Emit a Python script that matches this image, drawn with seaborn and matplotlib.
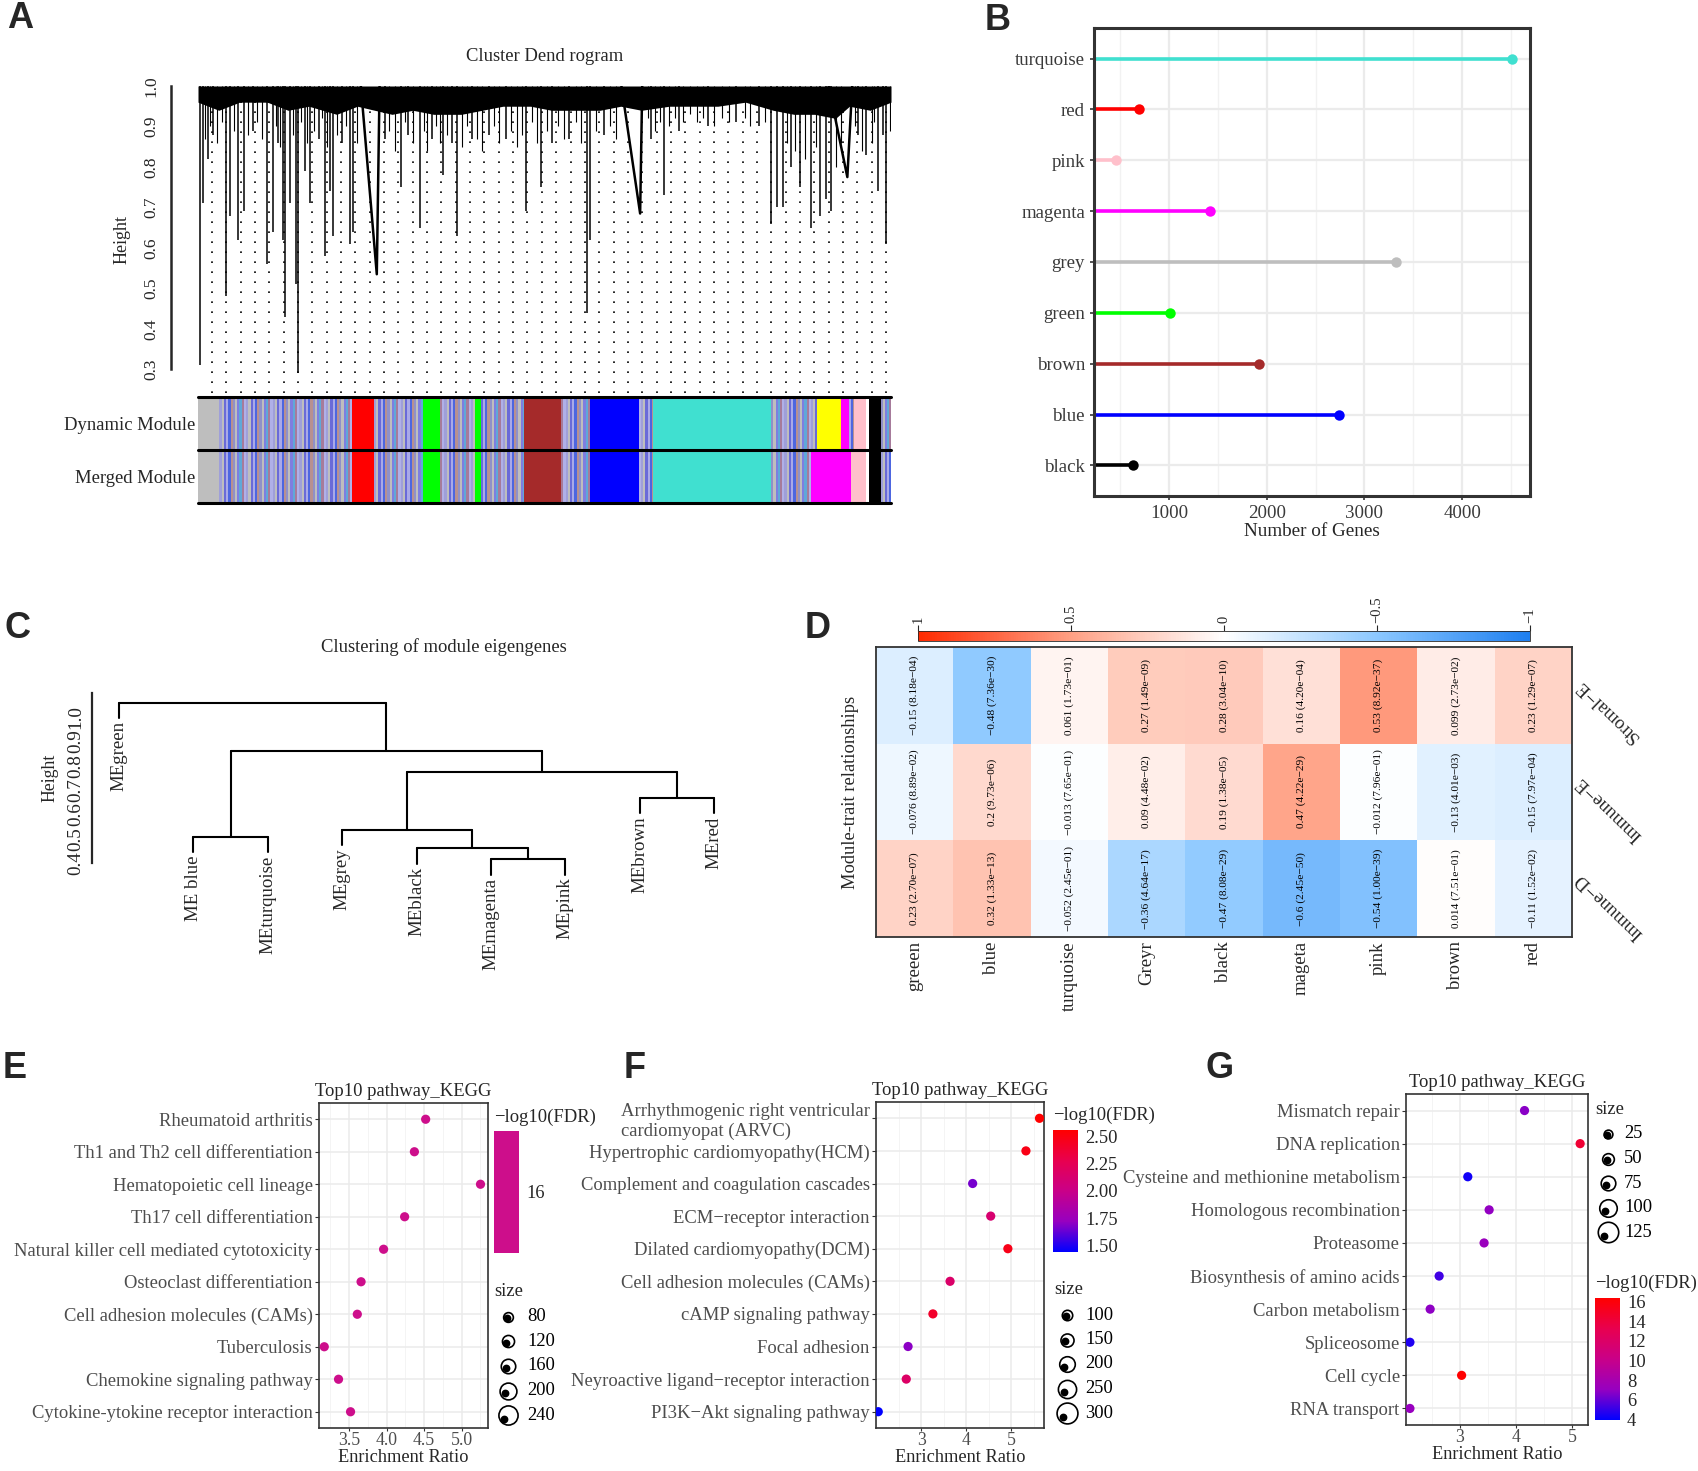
import numpy as np
import pandas as pd
import matplotlib
matplotlib.use("Agg")
import matplotlib.pyplot as plt
import matplotlib.colors as mcolors
import matplotlib.transforms as mtransforms
from matplotlib.ticker import AutoMinorLocator
from itertools import cycle
import seaborn as sns

sns.set_style("white")
plt.rcParams["font.family"] = ["Liberation Serif", "DejaVu Serif"]
plt.rcParams["font.size"] = 13.4

# -------------------------------
# Data
# -------------------------------
module_hex = {"turquoise": "#40E0D0", "red": "#FF0000", "pink": "#FFC0CB",
              "magenta": "#FF00FF", "grey": "#BEBEBE", "green": "#00FF00",
              "brown": "#A52A2A", "blue": "#0000FF", "black": "#000000",
              "yellow": "#FFFF00", "white": "#FFFFFF"}
mix_palette = ["#9F9FD9", "#BEBEBE", "#6A6AD8", "#A9A9E8", "#4D66E0", "#B89090",
               "#9090C8", "#BEBEBE", "#7E7EE0", "#5FA8D8", "#A67B9B", "#B0B0E8"]

# A: gene dendrogram (read approximately) and module colour rows
canopy_x = [0, 0.03, 0.06, 0.10, 0.13, 0.16, 0.20, 0.23, 0.28, 0.31, 0.34, 0.38, 0.41,
            0.44, 0.48, 0.51, 0.54, 0.58, 0.61, 0.64, 0.68, 0.71, 0.75, 0.79, 0.83,
            0.86, 0.89, 0.92, 0.94, 0.97, 1.0]
canopy_low = [0.96, 0.94, 0.96, 0.96, 0.94, 0.95, 0.93, 0.95, 0.93, 0.94, 0.93, 0.93,
              0.94, 0.95, 0.95, 0.94, 0.94, 0.94, 0.95, 0.94, 0.95, 0.95, 0.95, 0.96,
              0.94, 0.93, 0.93, 0.92, 0.95, 0.94, 0.96]
spike_x = [0.0025, 0.0066, 0.014, 0.022, 0.040, 0.046, 0.058, 0.066, 0.079, 0.100,
           0.108, 0.116, 0.123, 0.126, 0.133, 0.141, 0.144, 0.154, 0.162, 0.175,
           0.183, 0.190, 0.195, 0.208, 0.220, 0.224, 0.270, 0.293, 0.303, 0.320,
           0.337, 0.353, 0.366, 0.374, 0.395, 0.420, 0.445, 0.474, 0.495, 0.511,
           0.536, 0.561, 0.565, 0.586, 0.653, 0.673, 0.694, 0.736, 0.777, 0.810,
           0.827, 0.835, 0.844, 0.856, 0.869, 0.885, 0.898, 0.906, 0.914, 0.952,
           0.964, 0.981, 0.988, 0.993]
spike_h = [0.31, 0.71, 0.82, 0.88, 0.48, 0.68, 0.62, 0.69, 0.89, 0.56,
           0.64, 0.86, 0.62, 0.43, 0.71, 0.51, 0.29, 0.79, 0.71, 0.87,
           0.58, 0.74, 0.63, 0.86, 0.61, 0.64, 0.87, 0.75, 0.88, 0.65,
           0.87, 0.78, 0.86, 0.63, 0.87, 0.88, 0.87, 0.69, 0.75, 0.86,
           0.87, 0.44, 0.62, 0.88, 0.87, 0.73, 0.89, 0.90, 0.91, 0.90,
           0.66, 0.70, 0.70, 0.80, 0.75, 0.65, 0.68, 0.72, 0.69, 0.88,
           0.83, 0.74, 0.88, 0.61]
hair_x = [0.010, 0.018, 0.027, 0.034, 0.052, 0.072, 0.085, 0.092, 0.112, 0.119, 0.137,
          0.148, 0.158, 0.168, 0.179, 0.186, 0.200, 0.213, 0.230, 0.276, 0.284, 0.298,
          0.310, 0.326, 0.331, 0.344, 0.349, 0.360, 0.381, 0.388, 0.402, 0.410, 0.427,
          0.434, 0.452, 0.460, 0.467, 0.482, 0.489, 0.503, 0.520, 0.528, 0.546, 0.553,
          0.574, 0.595, 0.603, 0.650, 0.660, 0.667, 0.680, 0.688, 0.700, 0.710, 0.720,
          0.728, 0.745, 0.756, 0.766, 0.789, 0.797, 0.818, 0.850, 0.862, 0.876, 0.892,
          0.920, 0.928, 0.948, 0.958, 0.972, 0.976, 0.998]
hair_h = [0.87, 0.90, 0.86, 0.91, 0.89, 0.88, 0.91, 0.87, 0.90, 0.85, 0.88,
          0.91, 0.86, 0.89, 0.92, 0.85, 0.88, 0.90, 0.86, 0.89, 0.84, 0.91,
          0.86, 0.89, 0.84, 0.90, 0.86, 0.88, 0.85, 0.90, 0.87, 0.84, 0.90,
          0.86, 0.89, 0.85, 0.88, 0.91, 0.86, 0.89, 0.90, 0.87, 0.91, 0.86,
          0.89, 0.90, 0.87, 0.92, 0.89, 0.91, 0.90, 0.92, 0.91, 0.93, 0.91,
          0.92, 0.90, 0.92, 0.91, 0.92, 0.90, 0.91, 0.86, 0.84, 0.82, 0.85,
          0.80, 0.86, 0.90, 0.84, 0.86, 0.91, 0.89]
wedge_left = [0.235, 0.611, 0.910]
wedge_tip = [0.258, 0.638, 0.937]
wedge_right = [0.262, 0.641, 0.944]
wedge_h = [0.535, 0.685, 0.775]

dyn_edges = [0, 0.031, 0.222, 0.254, 0.324, 0.349, 0.400, 0.408, 0.470, 0.524, 0.565,
             0.636, 0.657, 0.827, 0.893, 0.928, 0.939, 0.947, 0.964, 0.968, 0.985, 1.0]
dyn_colors = ["grey", "mix", "red", "mix", "green", "mix", "green", "mix", "brown", "mix",
              "blue", "mix", "turquoise", "mix", "yellow", "magenta", "mix", "pink",
              "white", "black", "mix"]
merged_edges = [0, 0.031, 0.222, 0.254, 0.324, 0.349, 0.400, 0.408, 0.470, 0.524, 0.565,
                0.636, 0.657, 0.827, 0.884, 0.942, 0.964, 0.968, 0.985, 1.0]
merged_colors = ["grey", "mix", "red", "mix", "green", "mix", "green", "mix", "brown", "mix",
                 "blue", "mix", "turquoise", "mix", "magenta", "pink", "white", "black", "mix"]

# B: module sizes
b_modules = ["turquoise", "red", "pink", "magenta", "grey", "green", "brown", "blue", "black"]
b_genes = [4513, 692, 460, 1418, 3327, 1008, 1920, 2741, 631]

# C: eigengene clustering (R hclust style merge table)
c_leaves = ["MEgreen", "ME blue", "MEturquoise", "MEgrey", "MEblack", "MEmagenta",
            "MEpink", "MEbrown", "MEred"]
c_merge_a = [-6, -5, -2, -4, -8, 4, 3, -1]
c_merge_b = [-7, 1, -3, 2, -9, 5, 6, 7]
c_merge_h = [0.416, 0.460, 0.508, 0.537, 0.668, 0.775, 0.860, 1.059]

# D: module-trait relationships
d_modules = ["greeen", "blue", "turquoise", "Greyr", "black", "mageta", "pink", "brown", "red"]
d_traits = ["Stromal\u2212E", "Immune\u2212E", "Immune\u2212D"]
d_r = [[-0.15, -0.48, 0.061, 0.27, 0.28, 0.16, 0.53, 0.099, 0.23],
       [-0.076, 0.2, -0.013, 0.09, 0.19, 0.47, -0.012, -0.13, -0.15],
       [0.23, 0.32, -0.052, -0.36, -0.47, -0.6, -0.54, 0.014, -0.11]]
d_p = [["8.18e-04", "7.36e-30", "1.73e-01", "1.49e-09", "3.04e-10", "4.20e-04", "8.92e-37", "2.73e-02", "1.29e-07"],
       ["8.89e-02", "9.73e-06", "7.65e-01", "4.48e-02", "1.38e-05", "4.22e-29", "7.96e-01", "4.01e-03", "7.97e-04"],
       ["2.70e-07", "1.33e-13", "2.45e-01", "4.64e-17", "8.08e-29", "2.45e-50", "1.00e-39", "7.51e-01", "1.52e-02"]]

# E, F, G: KEGG enrichment
e_paths = ["Rheumatoid arthritis", "Th1 and Th2 cell differentiation", "Hematopoietic cell lineage",
           "Th17 cell differentiation", "Natural killer cell mediated cytotoxicity",
           "Osteoclast differentiation", "Cell adhesion molecules (CAMs)", "Tuberculosis",
           "Chemokine signaling pathway", "Cytokine-ytokine receptor interaction"]
e_ratio = [4.52, 4.37, 5.25, 4.24, 3.96, 3.66, 3.61, 3.17, 3.36, 3.52]
e_fdr = [16, 16, 16, 16, 16, 16, 16, 16, 16, 16]
e_sizes = [80, 120, 160, 200, 240]

f_paths = ["Arrhythmogenic right ventricular\ncardiomyopat (ARVC)", "Hypertrophic cardiomyopathy(HCM)",
           "Complement and coagulation cascades", "ECM\u2212receptor interaction",
           "Dilated cardiomyopathy(DCM)", "Cell adhesion molecules (CAMs)", "cAMP signaling pathway",
           "Focal adhesion", "Neyroactive ligand\u2212receptor interaction", "PI3K\u2212Akt signaling pathway"]
f_ratio = [5.62, 5.32, 4.14, 4.54, 4.92, 3.64, 3.26, 2.71, 2.67, 2.05]
f_fdr = [2.555, 2.48, 1.66, 2.12, 2.47, 2.15, 2.40, 1.70, 2.17, 1.44]
f_sizes = [100, 150, 200, 250, 300]

g_paths = ["Mismatch repair", "DNA replication", "Cysteine and methionine metabolism",
           "Homologous recombination", "Proteasome", "Biosynthesis of amino acids",
           "Carbon metabolism", "Spliceosome", "Cell cycle", "RNA transport"]
g_ratio = [4.15, 5.14, 3.14, 3.52, 3.43, 2.63, 2.47, 2.11, 3.03, 2.11]
g_fdr = [6.8, 14.3, 4.3, 7.0, 7.2, 5.3, 6.9, 4.6, 16.35, 7.1]
g_sizes = [25, 50, 75, 100, 125]

# -------------------------------
# Figure helpers
# -------------------------------
W, H = 1699, 1471
fig = plt.figure(figsize=(W / 100, H / 100), dpi=100)


def box(x0, y0, x1, y1):
    return [x0 / W, 1 - y1 / H, (x1 - x0) / W, (y1 - y0) / H]


def ftext(x, y, s, **kw):
    return fig.text(x / W, 1 - y / H, s, **kw)


for lab, (x, y) in zip("ABCDEFG", [(20, 19), (998, 20), (18, 629), (818, 628),
                                   (15, 1068), (635, 1068), (1220, 1068)]):
    ftext(x, y, lab, family="Liberation Sans", weight="bold", fontsize=26,
          ha="center", va="center")

# -------------------------------
# A: Cluster dendrogram
# -------------------------------
axA = fig.add_axes(box(198, 86, 891, 393))
axA.set_xlim(0, 1)
axA.set_ylim(0.2416, 1.0)
axA.fill_between(canopy_x, canopy_low, 1.0, color="black", lw=0, zorder=3)
axA.vlines(spike_x, spike_h, 1.0, color="black", lw=1.1, zorder=3)
axA.vlines(hair_x, hair_h, 1.0, color="black", lw=0.8, zorder=3)
for xl, xt, xr, ht in zip(wedge_left, wedge_tip, wedge_right, wedge_h):
    axA.plot([xl, xt, xr], [1.0, ht, 1.0], color="black", lw=1.8, zorder=3)
axA.set_xticks(np.linspace(0.02, 0.993, 48))
axA.tick_params(axis="x", length=0, labelbottom=False)
axA.grid(axis="x", color="black", ls=(0, (1, 5)), lw=1.2)
axA.set_axisbelow(True)
for s in ["top", "right", "bottom"]:
    axA.spines[s].set_visible(False)
axA.spines["left"].set_position(("outward", 19.5))
axA.spines["left"].set_bounds(0.3, 1.0)
axA.spines["left"].set_linewidth(1.8)
a_ticks = [0.3, 0.4, 0.5, 0.6, 0.7, 0.8, 0.9, 1.0]
axA.set_yticks(a_ticks)
axA.set_yticklabels([f"{t:.1f}" for t in a_ticks], rotation=90, va="center", fontsize=12.5)
axA.tick_params(axis="y", length=5.5, width=1.5, pad=3)
axA.set_ylabel("Height", fontsize=13, labelpad=9)
axA.set_title("Cluster Dend rogram", fontsize=13.4, pad=18)

axM = fig.add_axes(box(198, 397, 891, 503))
axM.set_xlim(0, 1)
axM.set_ylim(0, 2)
stripe = 0.0032
for row_y, edges, names in [(1, dyn_edges, dyn_colors), (0, merged_edges, merged_colors)]:
    mix_cycle = cycle(mix_palette)
    for x0, x1, name in zip(edges[:-1], edges[1:], names):
        if name == "mix":
            xs = np.arange(x0, x1, stripe)
            axM.broken_barh([(x, min(stripe, x1 - x)) for x in xs], (row_y, 1),
                            facecolors=[next(mix_cycle) for _ in xs], lw=0)
        else:
            axM.broken_barh([(x0, x1 - x0)], (row_y, 1), facecolors=module_hex[name], lw=0)
for yv in [0, 1, 2]:
    axM.axhline(yv, color="black", lw=2.2, clip_on=False)
for s in axM.spines.values():
    s.set_visible(False)
axM.set_xticks([])
axM.set_yticks([1.5, 0.5])
axM.set_yticklabels(["Dynamic Module", "Merged Module"], fontsize=13.4)
axM.tick_params(axis="y", length=0, pad=2)

# -------------------------------
# B: module sizes lollipop
# -------------------------------
axB = fig.add_axes(box(1094, 28, 1530, 496))
dfB = pd.DataFrame({"module": b_modules, "genes": b_genes})
axB.hlines(np.arange(len(b_modules)), 0, dfB["genes"],
           colors=[module_hex[m] for m in b_modules], lw=2.6, zorder=2)
sns.stripplot(data=dfB, x="genes", y="module", hue="module", palette=module_hex,
              order=b_modules, jitter=False, size=7.5, legend=False, ax=axB, zorder=3)
axB.set_xlim(233, 4695)
axB.set_ylim(8.6, -0.6)
axB.set_xticks([1000, 2000, 3000, 4000])
axB.xaxis.set_minor_locator(AutoMinorLocator(2))
axB.grid(which="major", color="#EBEBEB", lw=1.6)
axB.grid(which="minor", axis="x", color="#F2F2F2", lw=1.0)
axB.set_axisbelow(True)
for s in axB.spines.values():
    s.set_visible(True)
    s.set_color("#333333")
    s.set_linewidth(2.2)
axB.tick_params(which="major", length=3, width=1.2, color="#333333",
                labelsize=13.6, labelcolor="#3A3A3A", left=True, bottom=True)
axB.tick_params(which="minor", length=0)
axB.set_xlabel("Number of Genes", fontsize=13.8, labelpad=1)
axB.set_ylabel("")

# -------------------------------
# C: clustering of module eigengenes
# -------------------------------
axC = fig.add_axes(box(92, 692.7, 760, 863))
axC.set_xlim(0.637, 9.615)
axC.set_ylim(0.4, 1.1)
hang = 0.1 * (max(c_merge_h) - min(c_merge_h))
node_x = []
for a, b, h in zip(c_merge_a, c_merge_b, c_merge_h):
    xs = []
    for c in (a, b):
        if c < 0:
            xc = float(-c)
            axC.plot([xc, xc], [h, h - hang], color="black", lw=1.5, clip_on=False)
            axC.text(xc, h - hang - 0.012, c_leaves[-c - 1], rotation=90, ha="center",
                     va="top", fontsize=13.6, clip_on=False)
        else:
            xc = node_x[c - 1]
            axC.plot([xc, xc], [c_merge_h[c - 1], h], color="black", lw=1.5, clip_on=False)
        xs.append(xc)
    axC.plot(xs, [h, h], color="black", lw=1.5, clip_on=False)
    node_x.append(sum(xs) / 2)
for s in ["top", "right", "bottom"]:
    axC.spines[s].set_visible(False)
axC.spines["left"].set_bounds(0.4, 1.1)
axC.spines["left"].set_linewidth(1.6)
c_ticks = [0.4, 0.5, 0.6, 0.7, 0.8, 0.9, 1.0, 1.1]
axC.set_yticks(c_ticks)
axC.set_yticklabels([f"{t:.1f}" if t < 1.05 else "" for t in c_ticks], rotation=90,
                    va="center", fontsize=13.8)
axC.tick_params(axis="y", length=3.6, width=1.3, pad=2)
axC.set_xticks([])
axC.set_ylabel("Height", fontsize=12.8, labelpad=6)
ftext(444, 647, "Clustering of module eigengenes", ha="center", va="center", fontsize=13.4)

# -------------------------------
# D: module-trait heatmap
# -------------------------------
axD = fig.add_axes(box(876, 647, 1572, 937))
caxD = fig.add_axes(box(918, 631, 1530, 641))
cmapD = mcolors.LinearSegmentedColormap.from_list(
    "mt", [(0, "#1E7FF0"), (0.25, "#8CC8FF"), (0.5, "#FFFFFF"), (0.75, "#FFA084"), (1, "#FF2A00")])
dfD = pd.DataFrame(d_r, index=d_traits, columns=d_modules)
annotD = np.array([[f"{r:g} ({p})".replace("-", "\u2212") for r, p in zip(rr, pp)]
                   for rr, pp in zip(d_r, d_p)])
sns.heatmap(dfD, annot=annotD, fmt="", cmap=cmapD, vmin=-1, vmax=1, ax=axD, cbar_ax=caxD,
            cbar_kws={"orientation": "horizontal"}, yticklabels=False,
            annot_kws={"rotation": 90, "fontsize": 8.2, "color": "black"})
for s in axD.spines.values():
    s.set_visible(True)
    s.set_color("#333333")
    s.set_linewidth(1.3)
axD.set_xticklabels(d_modules, rotation=90, fontsize=13.5)
axD.tick_params(axis="x", length=0, pad=3)
axD.set_ylabel("Module-trait relationships", fontsize=13.3, labelpad=12)
axD.set_xlabel("")
blend = mtransforms.blended_transform_factory(axD.transAxes, axD.transData)
for i, t in enumerate(d_traits):
    axD.text(1.0086, i + 0.5 - 0.134, t, transform=blend, rotation=136,
             rotation_mode="anchor", ha="right", va="center", fontsize=13.5)
cbD = axD.collections[0].colorbar
caxD.invert_xaxis()
caxD.xaxis.set_ticks_position("top")
cbD.set_ticks([1, 0.5, 0, -0.5, -1])
caxD.set_xticklabels(["1", "0.5", "0", "\u22120.5", "\u22121"], rotation=90, fontsize=10.5)
caxD.tick_params(axis="x", length=4, width=0.8, pad=2)
cbD.outline.set_linewidth(0.6)

# -------------------------------
# E, F, G: KEGG dot plots
# -------------------------------
lab_grey = "#4D4D4D"


def size_legend(breaks, ms_list, title_xy, y0, step, cx, tx):
    ftext(title_xy[0], title_xy[1], "size", ha="left", va="center", fontsize=13.4)
    n = len(breaks)
    lax = fig.add_axes(box(cx - 20, y0 - step / 2, tx + 50, y0 + step * (n - 0.5)))
    lax.set_xlim(cx - 20, tx + 50)
    lax.set_ylim(n - 0.5, -0.5)
    lax.axis("off")
    for i, (b, ms) in enumerate(zip(breaks, ms_list)):
        lax.plot(cx, i, "o", ms=ms, mfc="white", mec="black", mew=1.2)
        trans = mtransforms.offset_copy(lax.transData, fig=fig, x=-0.27 * ms + 1.2,
                                        y=-0.27 * ms + 1.2, units="points")
        lax.plot(cx, i, "o", ms=4.6, color="black", transform=trans)
        lax.text(tx, i, str(b), ha="left", va="center", fontsize=13.3, color="black")


def kegg_panel(rect, names, ratio, fdr, cmap, vlim, xlim, xticks, xfmt,
               cbar_rect, cbar_ticks, cbar_fmt, fdr_title_xy):
    ax = fig.add_axes(box(*rect))
    df = pd.DataFrame({"pathway": names, "ratio": ratio, "fdr": fdr})
    sns.scatterplot(data=df, x="ratio", y="pathway", hue="fdr", palette=cmap, hue_norm=vlim,
                    s=44, linewidth=0, legend=False, ax=ax, zorder=3)
    ax.set_xlim(*xlim)
    ax.set_ylim(len(names) - 0.5, -0.5)
    ax.set_xticks(xticks)
    ax.set_xticklabels([xfmt.format(t) for t in xticks])
    ax.xaxis.set_minor_locator(AutoMinorLocator(2))
    ax.grid(which="major", color="#EBEBEB", lw=1.1)
    ax.grid(which="minor", axis="x", color="#F4F4F4", lw=0.7)
    ax.set_axisbelow(True)
    for s in ax.spines.values():
        s.set_visible(True)
        s.set_color("#333333")
        s.set_linewidth(1.2)
    ax.tick_params(which="major", length=3, width=0.8, color="#333333", labelsize=13.4,
                   labelcolor=lab_grey, left=True, bottom=True, pad=1.5)
    ax.tick_params(axis="x", which="major", length=2, pad=1, labelsize=12.8)
    ax.tick_params(which="minor", length=0)
    for lbl in ax.get_yticklabels():
        if "\n" in lbl.get_text():
            lbl.set_multialignment("left")
    ax.set_xlabel("Enrichment Ratio", fontsize=13.2, labelpad=0)
    ax.set_ylabel("")
    ax.set_title("Top10 pathway_KEGG", fontsize=13.4, pad=5)

    cax = fig.add_axes(box(*cbar_rect))
    sm = plt.cm.ScalarMappable(norm=mcolors.Normalize(*vlim), cmap=cmap)
    cb = fig.colorbar(sm, cax=cax)
    cb.set_ticks(cbar_ticks)
    cax.set_yticklabels([cbar_fmt.format(t) for t in cbar_ticks])
    cb.outline.set_visible(False)
    cax.yaxis.set_ticks_position("both")
    cax.tick_params(direction="in", color="white", length=4, width=1, labelsize=13.3, pad=5)
    ftext(fdr_title_xy[0], fdr_title_xy[1], "\u2212log10(FDR)", ha="left", va="center",
          fontsize=13.4)
    return ax


# ggplot blue -> red gradient (Lab interpolation)
cmap_br = mcolors.LinearSegmentedColormap.from_list(
    "br", ["#0000FF", "#9700C0", "#C90088", "#E8004F", "#FF0000"])
cmap_e = mcolors.ListedColormap(["#CD0E8B"])

kegg_panel((319, 1103, 488, 1428), e_paths, e_ratio, e_fdr, cmap_e, (15.5, 16.5),
           (3.10, 5.35), [3.5, 4.0, 4.5, 5.0], "{:.1f}",
           (494, 1131, 519, 1253), [16], "{:d}", (494, 1117))
size_legend(e_sizes, [7, 8.7, 10.4, 12.1, 13.8], (494, 1291), 1316.7, 24.6, 508, 527)

kegg_panel((876, 1102, 1044, 1428), f_paths, f_ratio, f_fdr, cmap_br, (min(f_fdr), max(f_fdr)),
           (2.0, 5.72), [3, 4, 5], "{:d}",
           (1053, 1130, 1078, 1252), [1.5, 1.75, 2.0, 2.25, 2.5], "{:.2f}", (1053, 1115))
size_legend(f_sizes, [7.5, 9.4, 11.2, 13.1, 15], (1054, 1290), 1315, 24.5, 1067, 1085)

kegg_panel((1406, 1094, 1588, 1425), g_paths, g_ratio, g_fdr, cmap_br, (3.95, max(g_fdr)),
           (2.04, 5.28), [3, 4, 5], "{:d}",
           (1595, 1298, 1620, 1420), [4, 6, 8, 10, 12, 14, 16], "{:d}", (1595, 1283))
size_legend(g_sizes, [6.3, 8.4, 10.5, 12.6, 14.7], (1595, 1109), 1134, 24.6, 1608, 1624)

fig.savefig("out.png", dpi=100)
